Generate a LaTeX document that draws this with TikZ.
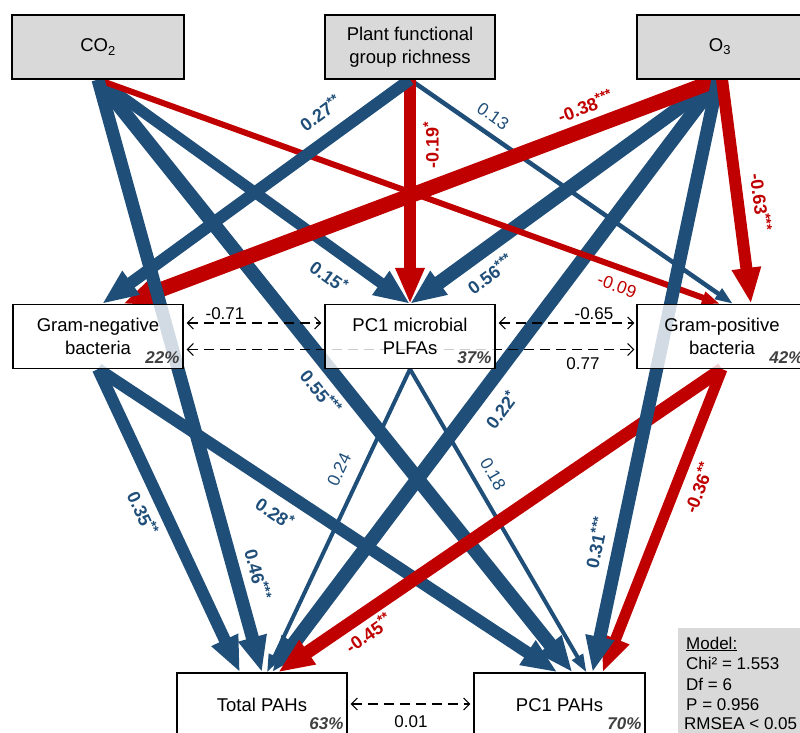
\documentclass[tikz,border=0pt]{standalone}
\usepackage{fontspec}
\setmainfont{Liberation Sans}
\usetikzlibrary{arrows.meta,calc}
\pgfdeclarelayer{bg}
\pgfsetlayers{bg,main}
\definecolor{pblue}{HTML}{1F4E79}
\definecolor{pred}{HTML}{C00000}
\definecolor{boxgray}{HTML}{D9D9D9}
\definecolor{pctgray}{HTML}{404040}
\newcommand{\sigstars}[1]{\raisebox{0.32em}{\fontsize{14}{14}\selectfont #1}}
\begin{document}
\begin{tikzpicture}[x=1pt,y=-1pt,
  box/.style={draw=black, line width=1.2pt, fill=white, fill opacity=0.8, text opacity=1,
    align=center, font=\fontsize{18.5}{23.5}\selectfont, inner sep=0pt, minimum height=64pt},
  exo/.style={box, fill=boxgray, fill opacity=1},
  pct/.style={font=\fontsize{17}{17}\selectfont\bfseries\itshape, text=pctgray, inner sep=0pt},
  bl/.style={draw=pblue},
  rd/.style={draw=pred},
  hbig/.style={-{Triangle[length=36pt,width=27pt]}},
  hsmall/.style={-{Triangle[length=18pt,width=12pt]}},
  sig/.style={font=\fontsize{18}{18}\selectfont\bfseries, inner sep=0pt},
  nsig/.style={font=\fontsize{17.5}{17.5}\selectfont, inner sep=0pt},
  cov/.style={line width=1.1pt, dash pattern=on 10pt off 6pt,
    {Straight Barb[length=6pt,width=12pt]}-{Straight Barb[length=6pt,width=12pt]}},
  covlab/.style={font=\fontsize{17}{17}\selectfont, inner sep=0pt},
  mtxt/.style={font=\fontsize{17}{17}\selectfont, inner sep=0pt, anchor=base west}
]
\path[use as bounding box] (0,0) rectangle (800,733);
\clip (0,0) rectangle (800,733);

% boxes
\node[exo, minimum width=172pt] (co2) at (98,47) {CO\textsubscript{2}};
\node[exo, minimum width=170pt] (plant) at (410,47) {Plant functional\\group richness};
\node[exo, minimum width=166pt] (o3) at (720,47) {O\textsubscript{3}};
\node[box, minimum width=170pt] (gn) at (98,336.5) {Gram-negative\\bacteria};
\node[box, minimum width=170pt] (pc1m) at (410,336.5) {PC1 microbial\\PLFAs};
\node[box, minimum width=170pt] (gp) at (722,336.5) {Gram-positive\\bacteria};
\node[box, minimum width=170pt] (tot) at (262,705) {Total PAHs};
\node[box, minimum width=171pt] (pc1p) at (559.5,705) {PC1 PAHs};

% percentages
\node[pct, anchor=south east] (pgn) at ($(gn.south east)+(-4,-5)$) {22\%};
\node[pct, anchor=south east] (ppc1m) at ($(pc1m.south east)+(-4,-5)$) {37\%};
\node[pct, anchor=south east] (pgp) at ($(gp.south east)+(-4,-5)$) {42\%};
\node[pct, anchor=south east] (ptot) at ($(tot.south east)+(-4,-8)$) {63\%};
\node[pct, anchor=south east] (ppc1p) at ($(pc1p.south east)+(-4,-8)$) {70\%};

% model box
\node[fill=boxgray, minimum width=135pt, minimum height=110pt, anchor=north west, inner sep=0pt] (model) at (678,628) {};
\node[mtxt] (m1) at (686,649) {\underline{Model:}};
\node[mtxt] (m2) at (686,669.5) {Chi² = 1.553};
\node[mtxt] (m3) at (686,690) {Df = 6};
\node[mtxt] (m4) at (686,710.5) {P = 0.956};
\node[mtxt] (m5) at (684,729) {RMSEA < 0.05};

\begin{pgfonlayer}{bg}
\clip (0,0) rectangle (800,733);
% paths
\draw[bl, line width=11pt, hbig] (co2.south) -- (pc1m.north);
\draw[bl, line width=14pt, hbig] (co2.south) -- ($(pc1p.north)+(13,0)$);
\draw[bl, line width=12pt, hbig] (gn.south) -- ($(pc1p.north)+(-2,0)$);
\draw[bl, line width=4pt, hsmall] (pc1m.south) -- ($(pc1p.north)+(27,0)$);
\draw[bl, line width=4pt, hsmall] (pc1m.south) -- ($(tot.north)+(5,0)$);
\draw[bl, line width=12pt, hbig] (gn.south) -- ($(tot.north)+(-22,0)$);
\draw[bl, line width=4.5pt, hsmall] (plant.south) -- ($(gp.north)+(11,0)$);
\draw[bl, line width=14pt, hbig] ($(o3.south)+(-2,0)$) -- (pc1m.north);
\draw[bl, line width=14pt, hbig] ($(o3.south)+(-2,0)$) -- ($(tot.north)+(10,0)$);
\draw[rd, line width=15pt, hbig] ($(o3.south)+(-2,0)$) -- ($(gn.north)+(25,0)$);
\draw[rd, line width=6pt, hsmall] (co2.south) -- ($(gp.north)+(-2,0)$);
\draw[rd, line width=12pt, hbig] (plant.south) -- (pc1m.north);
\draw[bl, line width=12pt, hbig] (plant.south) -- ($(gn.north)+(4,0)$);
\draw[bl, line width=13pt, hbig] (co2.south) -- (tot.north);
\draw[rd, line width=13pt, hbig] (gp.south) -- ($(tot.north)+(16,0)$);
\draw[rd, line width=11pt, hbig] (gp.south) -- ($(pc1p.north)+(43,0)$);
\draw[bl, line width=13pt, hbig] ($(o3.south)+(-2,0)$) -- ($(pc1p.north)+(33,0)$);
\draw[rd, line width=12pt, hbig] ($(o3.south)+(2,0)$) -- ($(gp.north)+(29,0)$);
% correlations
\draw[cov] ($(gn.east)+(3,-13.5)$) -- ($(pc1m.west)+(-3,-13.5)$);
\draw[cov] ($(pc1m.east)+(3,-13.5)$) -- ($(gp.west)+(-2,-13.5)$);
\draw[cov] ($(gn.east)+(3,13)$) -- ($(gp.west)+(-2,13)$);
\draw[cov] ($(tot.east)+(3,-1)$) -- ($(pc1p.west)+(-3,-1)$);
\end{pgfonlayer}

% correlation labels
\node[covlab] (c071) at (225,314) {-0.71};
\node[covlab] (c065) at (594,314) {-0.65};
\node[covlab] (c077) at (583,364) {0.77};
\node[covlab] (c001) at (411,722) {0.01};

% path labels
\node[sig, text=pblue, rotate=36] (l027) at (320,113) {0.27\sigstars{**}};
\node[sig, text=pred, rotate=90] (l019) at (431,145) {-0.19\sigstars{*}};
\node[nsig, text=pblue, rotate=-35] (l013) at (493,116) {0.13};
\node[sig, text=pred, rotate=21] (l038) at (585,106) {-0.38\sigstars{***}};
\node[sig, text=pblue, rotate=36] (l056) at (490,274) {0.56\sigstars{***}};
\node[sig, text=pred, rotate=-83] (l063) at (761,202) {-0.63\sigstars{***}};
\node[nsig, text=pred, rotate=-20] (l009) at (617,286) {-0.09};
\node[sig, text=pblue, rotate=-36] (l015) at (329,276) {0.15\sigstars{*}};
\node[sig, text=pblue, rotate=-51] (l055) at (321,392) {0.55\sigstars{***}};
\node[sig, text=pblue, rotate=-75] (l046) at (258,574) {0.46\sigstars{***}};
\node[sig, text=pblue, rotate=-65] (l035) at (143,513) {0.35\sigstars{**}};
\node[sig, text=pblue, rotate=-34] (l028) at (275,513) {0.28\sigstars{*}};
\node[nsig, text=pblue, rotate=65] (l024) at (339,470) {0.24};
\node[sig, text=pblue, rotate=53] (l022) at (501,410) {0.22\sigstars{*}};
\node[nsig, text=pblue, rotate=-60] (l018) at (493,474) {0.18};
\node[sig, text=pblue, rotate=78] (l031) at (596,543) {0.31\sigstars{***}};
\node[sig, text=pred, rotate=69] (l036) at (698,488) {-0.36\sigstars{**}};
\node[sig, text=pred, rotate=35] (l045) at (368,633) {-0.45\sigstars{**}};
\end{tikzpicture}
\end{document}
